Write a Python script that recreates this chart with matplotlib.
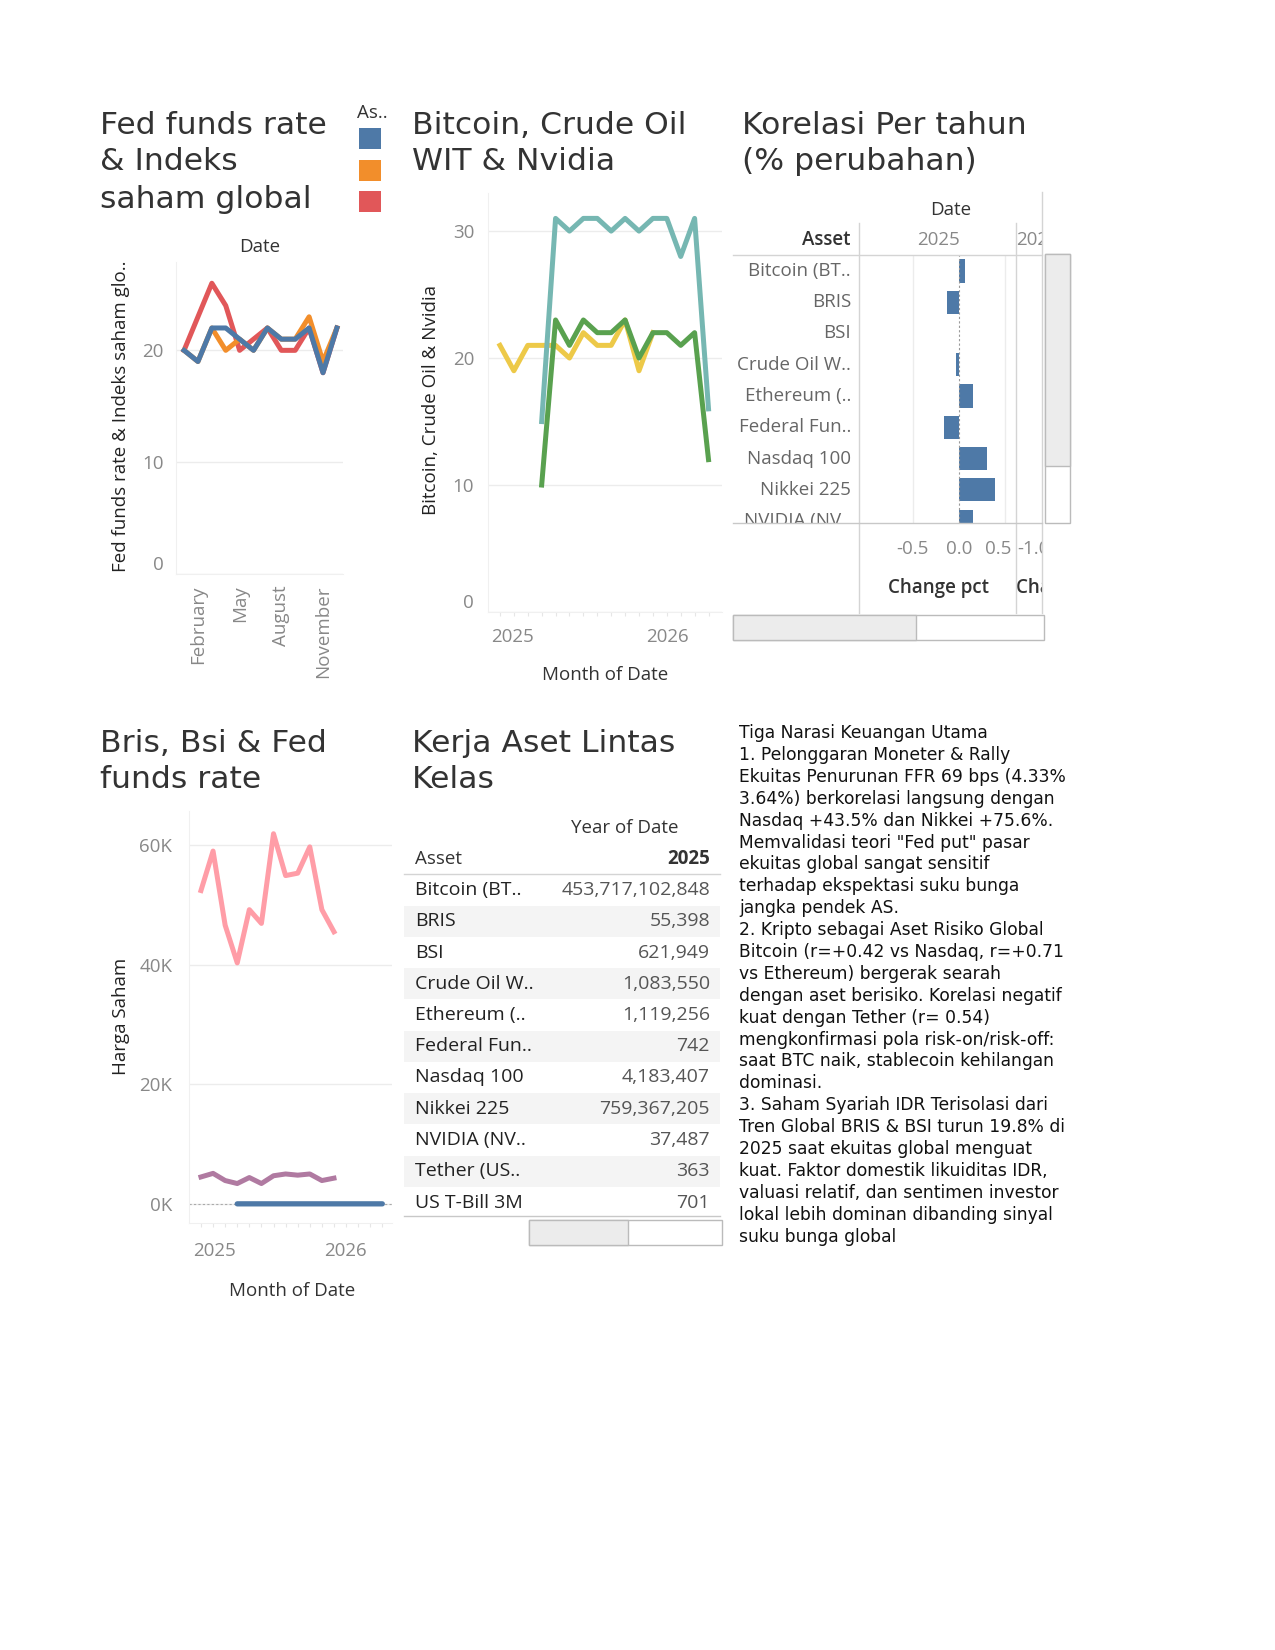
import matplotlib
matplotlib.use("Agg")
import matplotlib.pyplot as plt
from matplotlib.patches import Rectangle

W, H = 1275, 1650

# ---------------- data ----------------
# Fed funds rate & indeks saham global (Jan..Dec 2025)
fed_blue = [20, 19, 22, 22, 21, 20, 22, 21, 21, 22, 18, 22]
fed_orange = [20, 19, 22, 20, 21, 20, 22, 21, 21, 23, 19, 22]
fed_red = [20, 23, 26, 24, 20, 21, 22, 20, 20, 22, 18, 22]
fed_tick_idx = [1, 4, 7, 10]
fed_tick_lbl = ["February", "May", "August", "November"]

# Bitcoin, Crude Oil, Nvidia (month index from Jan 2025)
crude_idx = list(range(0, 12))
crude_val = [21, 19, 21, 21, 21, 20, 22, 21, 21, 23, 19, 22]
btc_idx = list(range(3, 16))
btc_val = [15, 31, 30, 31, 31, 30, 31, 30, 31, 31, 28, 31, 16]
nvda_idx = list(range(3, 16))
nvda_val = [10, 23, 21, 23, 22, 22, 23, 20, 22, 22, 21, 22, 12]

# Korelasi per tahun
corr_assets = ["Bitcoin (BT..", "BRIS", "BSI", "Crude Oil W..", "Ethereum (..",
               "Federal Fun..", "Nasdaq 100", "Nikkei 225", "NVIDIA (NV.."]
corr_change = [0.07, -0.13, 0.0, -0.035, 0.15, -0.165, 0.30, 0.39, 0.15]

# Bris, Bsi & Fed funds rate
bris_idx = list(range(0, 12))
bris_val = [52400, 59000, 46600, 40300, 49200, 46900, 61900, 54900, 55300, 59700, 49200, 45500]
bsi_idx = list(range(0, 12))
bsi_val = [4500, 5100, 3900, 3400, 4400, 3400, 4700, 5000, 4800, 5000, 3900, 4300]
ffr_idx = list(range(3, 16))
ffr_val = [4.33, 4.33, 4.33, 4.33, 4.33, 4.33, 4.33, 4.22, 4.09, 4.0, 3.9, 3.72, 3.64]

# Kerja aset lintas kelas
table_assets = ["Bitcoin (BT..", "BRIS", "BSI", "Crude Oil W..", "Ethereum (..",
                "Federal Fun..", "Nasdaq 100", "Nikkei 225", "NVIDIA (NV..",
                "Tether (US..", "US T-Bill 3M"]
table_values = [453717102848, 55398, 621949, 1083550, 1119256, 742, 4183407,
                759367205, 37487, 363, 701]

narasi = [
    "Tiga Narasi Keuangan Utama",
    "1. Pelonggaran Moneter & Rally",
    "Ekuitas Penurunan FFR 69 bps (4.33%",
    "3.64%) berkorelasi langsung dengan",
    "Nasdaq +43.5% dan Nikkei +75.6%.",
    "Memvalidasi teori \"Fed put\" pasar",
    "ekuitas global sangat sensitif",
    "terhadap ekspektasi suku bunga",
    "jangka pendek AS.",
    "2. Kripto sebagai Aset Risiko Global",
    "Bitcoin (r=+0.42 vs Nasdaq, r=+0.71",
    "vs Ethereum) bergerak searah",
    "dengan aset berisiko. Korelasi negatif",
    "kuat dengan Tether (r= 0.54)",
    "mengkonfirmasi pola risk-on/risk-off:",
    "saat BTC naik, stablecoin kehilangan",
    "dominasi.",
    "3. Saham Syariah IDR Terisolasi dari",
    "Tren Global BRIS & BSI turun 19.8% di",
    "2025 saat ekuitas global menguat",
    "kuat. Faktor domestik likuiditas IDR,",
    "valuasi relatif, dan sentimen investor",
    "lokal lebih dominan dibanding sinyal",
    "suku bunga global",
]

# ---------------- style ----------------
BLUE, ORANGE, RED = "#4e79a7", "#f28e2b", "#e15759"
TEAL, GREEN, YELLOW = "#76b7b2", "#59a14f", "#edc948"
PURPLE, PINK = "#b07aa1", "#ff9da7"
GRID = "#ececec"
TICK = "#888888"
DARK = "#333333"
LBL = "Open Sans"
plt.rcParams["font.family"] = ["DejaVu Sans"]

fig = plt.figure(figsize=(W / 100, H / 100), dpi=100)
fig.patch.set_facecolor("white")


def box(x0, y0, x1, y1):
    return fig.add_axes([x0 / W, 1 - y1 / H, (x1 - x0) / W, (y1 - y0) / H])


def clean(ax):
    for s in ["top", "right"]:
        ax.spines[s].set_visible(False)
    for s in ["left", "bottom"]:
        ax.spines[s].set_color("#f0f0f0")
    ax.grid(axis="y", color=GRID, lw=1)
    ax.set_axisbelow(True)
    ax.tick_params(axis="both", length=0, colors=TICK, labelsize=13.5)
    for lab in ax.get_xticklabels() + ax.get_yticklabels():
        lab.set_family(LBL)


# ---- chart 1: Fed funds rate & Indeks saham global ----
ax1 = box(176, 262, 343, 574)
m = list(range(12))
ax1.plot(m, fed_red, color=RED, lw=3.6)
ax1.plot(m, fed_orange, color=ORANGE, lw=3.6)
ax1.plot(m, fed_blue, color=BLUE, lw=3.6)
ax1.set_xlim(-0.58, 11.44)
ax1.set_ylim(0, 27.9)
ax1.set_yticks([0, 10, 20])
ax1.set_xticks(fed_tick_idx)
ax1.set_xticklabels(fed_tick_lbl, rotation=90, va="top")
clean(ax1)
ax1.tick_params(axis="y", pad=9)
ax1.tick_params(axis="x", pad=8)
ax1.get_yticklabels()[0].set_va("bottom")

# ---- chart 2: Bitcoin, Crude Oil & Nvidia ----
ax2 = box(488, 193, 722, 612)
ax2.plot(crude_idx, crude_val, color=YELLOW, lw=3.6)
ax2.plot(btc_idx, btc_val, color=TEAL, lw=3.6)
ax2.plot(nvda_idx, nvda_val, color=GREEN, lw=3.6)
ax2.set_xlim(-0.86, 15.97)
ax2.set_ylim(0, 33)
ax2.set_yticks([0, 10, 20, 30])
ax2.set_xticks([])
ax2.set_xticks(list(range(0, 16)), minor=True)
clean(ax2)
ax2.tick_params(axis="x", which="minor", length=3, width=0.8, color="#e6e6e6")
ax2.tick_params(axis="y", pad=10)
ax2.get_yticklabels()[0].set_va("bottom")

# ---- chart 3: Korelasi per tahun ----
ax3 = box(859, 255, 1016, 523)
rows = list(range(len(corr_assets)))
ax3.barh(rows, corr_change, height=0.74, color=BLUE)
ax3.set_xlim(-1.087, 0.62)
ax3.set_ylim(8.06, -0.51)
for g in [-0.5, 0.5]:
    ax3.axvline(g, color=GRID, lw=1, zorder=0)
ax3.axvline(0, color="#999999", lw=0.8, ls=(0, (2, 2)), zorder=3)
ax3.set_xticks([])
ax3.set_yticks([])
for s in ax3.spines.values():
    s.set_visible(False)

ax3l = box(733, 255, 859, 523)
ax3l.set_ylim(8.06, -0.51)
ax3l.set_xlim(0, 1)
ax3l.axis("off")
for i, a in enumerate(corr_assets):
    ax3l.text(0.937, i, a, ha="right", va="center", family=LBL, fontsize=13.5,
              color="#666666", clip_on=True)

# clipped second column (2026)
ax3c = box(1016, 192, 1042, 613)
ax3c.set_xlim(1016, 1042)
ax3c.set_ylim(613, 192)
ax3c.axis("off")
ax3c.text(1016, 240, "2026", va="center", family=LBL, fontsize=13.5, color=TICK, clip_on=True)
ax3c.text(1017, 549, "-1.0", va="center", family=LBL, fontsize=13.5, color=TICK, clip_on=True)
ax3c.text(1016, 588, "Change pct", va="center", family=LBL, fontsize=13.5, color=DARK,
          fontweight="semibold", clip_on=True)

# ---- chart 4: Bris, Bsi & Fed funds rate ----
ax4 = box(189, 811, 392, 1223)
ax4.axhline(0, color="#aaaaaa", lw=0.8, ls=(0, (2, 2)), zorder=1)
ax4.plot(bris_idx, bris_val, color=PINK, lw=3.6)
ax4.plot(bsi_idx, bsi_val, color=PURPLE, lw=3.6)
ax4.plot(ffr_idx, ffr_val, color=BLUE, lw=3.8, solid_capstyle="round")
ax4.set_xlim(-0.99, 15.8)
ax4.set_ylim(-3200, 65700)
ax4.set_yticks([0, 20000, 40000, 60000])
ax4.set_yticklabels(["0K", "20K", "40K", "60K"])
ax4.set_xticks([])
ax4.set_xticks(list(range(0, 16)), minor=True)
clean(ax4)
ax4.tick_params(axis="x", which="minor", length=3, width=0.8, color="#e6e6e6")
ax4.tick_params(axis="y", pad=12)

# ---- overlay for titles, tables and text ----
ov = fig.add_axes([0, 0, 1, 1])
ov.set_xlim(0, W)
ov.set_ylim(H, 0)
ov.axis("off")
ov.patch.set_alpha(0)


def title(x, ys, lines):
    for y, s in zip(ys, lines):
        ov.text(x, y, s, fontsize=22.6, color=DARK, va="center", ha="left")


title(100, [125, 162, 200], ["Fed funds rate", "& Indeks", "saham global"])
title(412, [125, 162], ["Bitcoin, Crude Oil", "WIT & Nvidia"])
title(742, [125, 162], ["Korelasi Per tahun", "(% perubahan)"])
title(100, [743, 780], ["Bris, Bsi & Fed", "funds rate"])
title(412, [743, 780], ["Kerja Aset Lintas", "Kelas"])

# chart 1 decorations
ov.text(260, 247, "Date", ha="center", va="center", family=LBL, fontsize=13.5, color=DARK)
ov.text(121, 416, "Fed funds rate & Indeks saham glo..", rotation=90, ha="center",
        va="center", family=LBL, fontsize=13.5, color="#222222")
ov.text(357, 113, "As..", ha="left", va="center", family=LBL, fontsize=13.5, color=DARK)
for y, c in zip([128, 160, 191], [BLUE, ORANGE, RED]):
    ov.add_patch(Rectangle((359, y), 22, 21, color=c, lw=0))

# chart 2 decorations
ov.text(431, 400, "Bitcoin, Crude Oil & Nvidia", rotation=90, ha="center", va="center",
        family=LBL, fontsize=13.5, color="#222222")
ov.text(512, 637, "2025", ha="center", va="center", family=LBL, fontsize=13.5, color=TICK)
ov.text(667, 637, "2026", ha="center", va="center", family=LBL, fontsize=13.5, color=TICK)
ov.text(605, 675, "Month of Date", ha="center", va="center", family=LBL, fontsize=13.5, color=DARK)

# chart 3 decorations
ov.text(951, 210, "Date", ha="center", va="center", family=LBL, fontsize=13.5, color=DARK)
ov.text(850, 240, "Asset", ha="right", va="center", family=LBL, fontsize=13.5, color=DARK,
        fontweight="semibold")
ov.text(938, 240, "2025", ha="center", va="center", family=LBL, fontsize=13.5, color=TICK)
for x, s in zip([912, 959, 998], ["-0.5", "0.0", "0.5"]):
    ov.text(x, 549, s, ha="center", va="center", family=LBL, fontsize=13.5, color=TICK)
ov.text(938, 588, "Change pct", ha="center", va="center", family=LBL, fontsize=13.5,
        color=DARK, fontweight="semibold")
ov.plot([859, 859], [223, 613], color="#d4d4d4", lw=1)
ov.plot([1016, 1016], [223, 613], color="#d4d4d4", lw=1)
ov.plot([1042, 1042], [192, 613], color="#d4d4d4", lw=1)
ov.plot([733, 1042], [255, 255], color="#d4d4d4", lw=1)
ov.plot([733, 1042], [523, 523], color="#c8c8c8", lw=1)
ov.add_patch(Rectangle((1045, 254), 25, 269, fc="white", ec="#bbbbbb", lw=1))
ov.add_patch(Rectangle((1045, 254), 25, 212, fc="#ececec", ec="#bbbbbb", lw=1))
ov.add_patch(Rectangle((733, 615), 311, 25, fc="white", ec="#bbbbbb", lw=1))
ov.add_patch(Rectangle((733, 615), 183, 25, fc="#ececec", ec="#bbbbbb", lw=1))

# chart 4 decorations
ov.text(121, 1016, "Harga Saham", rotation=90, ha="center", va="center", family=LBL,
        fontsize=13.5, color="#222222")
ov.text(214, 1251, "2025", ha="center", va="center", family=LBL, fontsize=13.5, color=TICK)
ov.text(345, 1251, "2026", ha="center", va="center", family=LBL, fontsize=13.5, color=TICK)
ov.text(292, 1291, "Month of Date", ha="center", va="center", family=LBL, fontsize=13.5, color=DARK)

# chart 5: table
ov.text(625, 828, "Year of Date", ha="center", va="center", family=LBL, fontsize=13.5, color=DARK)
ov.text(415, 859, "Asset", ha="left", va="center", family=LBL, fontsize=13.5, color=DARK)
ov.text(710, 859, "2025", ha="right", va="center", family=LBL, fontsize=13.5, color=DARK,
        fontweight="bold")
ov.plot([404, 720], [874, 874], color="#d4d4d4", lw=1)
row_h = 31.25
for i, (a, v) in enumerate(zip(table_assets, table_values)):
    yc = 890 + i * row_h
    if i % 2 == 1:
        ov.add_patch(Rectangle((404, yc - row_h / 2), 316, row_h, fc="#f4f4f4", lw=0))
    ov.text(415, yc, a, ha="left", va="center", family=LBL, fontsize=14, color="#222222")
    ov.text(710, yc, f"{v:,}", ha="right", va="center", family=LBL, fontsize=14, color="#555555")
ov.plot([404, 720], [1216, 1216], color="#c8c8c8", lw=1)
ov.add_patch(Rectangle((529, 1220), 193, 25, fc="white", ec="#bbbbbb", lw=1))
ov.add_patch(Rectangle((529, 1220), 99, 25, fc="#ececec", ec="#bbbbbb", lw=1))

# narrative text
for i, s in enumerate(narasi):
    ov.text(739, 733 + i * 21.9, s, ha="left", va="center", fontsize=12.3, color="#111111")

fig.savefig("out.png", dpi=100, facecolor="white")
